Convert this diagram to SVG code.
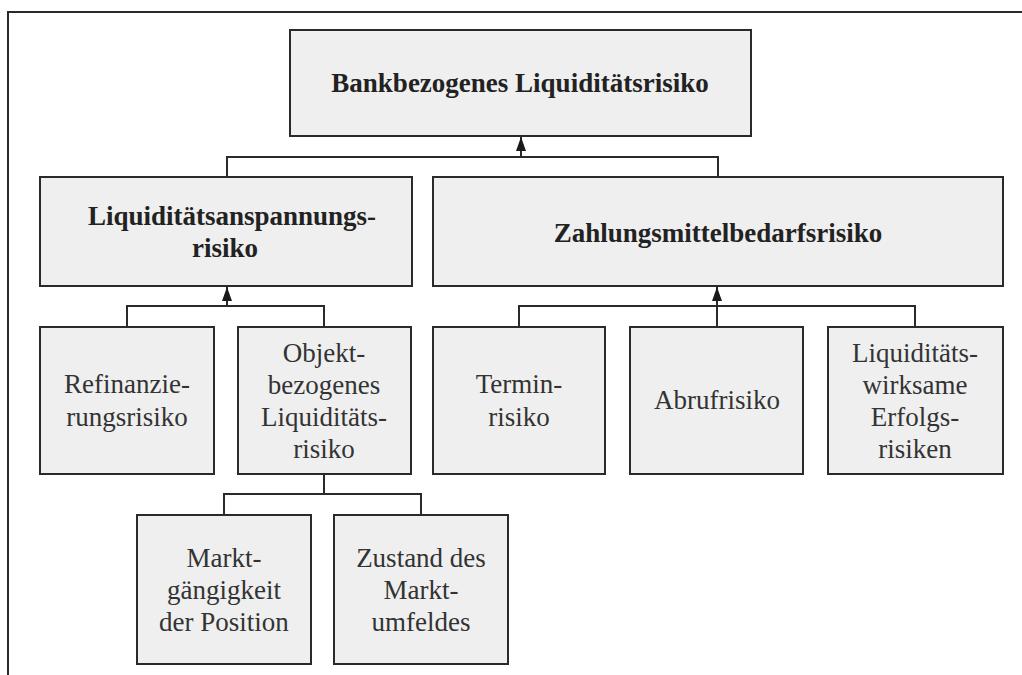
<svg xmlns="http://www.w3.org/2000/svg" width="1022" height="675" viewBox="0 0 1022 675">
<style>
.box{fill:#efefef;stroke:#2a2a2a;stroke-width:2}
.t{font-family:'Liberation Serif','DejaVu Serif',serif;font-size:27px;fill:#333;text-anchor:middle}
.b{font-family:'Liberation Serif','DejaVu Serif',serif;font-size:27px;font-weight:bold;fill:#222;text-anchor:middle}
.c{fill:none;stroke:#2a2a2a;stroke-width:2}
</style>
<defs>
<marker id="arr" viewBox="0 0 14 10" refX="14" refY="5" markerWidth="7" markerHeight="5" markerUnits="strokeWidth" orient="auto">
<path d="M0,0 L14,5 L0,10 Z" fill="#1a1a1a"/>
</marker>
</defs>
<rect width="1022" height="675" fill="#fff"/>
<path class="c" d="M1022,12 H8 V675"/>
<g id="connectors">
<path class="c" d="M227,177 V157 H718 V177"/>
<path class="c" d="M521,157 V137" marker-end="url(#arr)"/>
<path class="c" d="M127,327 V306 H324 V327"/>
<path class="c" d="M227,306 V287" marker-end="url(#arr)"/>
<path class="c" d="M519,327 V306 H915 V327"/>
<path class="c" d="M717,327 V287" marker-end="url(#arr)"/>
<path class="c" d="M224,515 V494 H421 V515"/>
<path class="c" d="M324,474 V494"/>
</g>
<g id="n-bank">
<rect class="box" x="290" y="30" width="461" height="106"/>
<text class="b" x="520" y="92">Bankbezogenes Liquiditätsrisiko</text>
</g>
<g id="n-anspannung">
<rect class="box" x="40" y="177" width="372" height="109"/>
<text class="b" x="232" y="225">Liquiditätsanspannungs-</text>
<text class="b" x="225" y="257">risiko</text>
</g>
<g id="n-zahlung">
<rect class="box" x="433" y="177" width="570" height="109"/>
<text class="b" x="718" y="242">Zahlungsmittelbedarfsrisiko</text>
</g>
<g id="n-refin">
<rect class="box" x="40" y="327" width="174" height="147"/>
<text class="t" x="127" y="393">Refinanzie-</text>
<text class="t" x="127" y="426">rungsrisiko</text>
</g>
<g id="n-objekt">
<rect class="box" x="238" y="327" width="173" height="147"/>
<text class="t" x="324" y="362">Objekt-</text>
<text class="t" x="324" y="394">bezogenes</text>
<text class="t" x="324" y="426">Liquiditäts-</text>
<text class="t" x="324" y="458">risiko</text>
</g>
<g id="n-termin">
<rect class="box" x="433" y="327" width="172" height="147"/>
<text class="t" x="519" y="393">Termin-</text>
<text class="t" x="519" y="426">risiko</text>
</g>
<g id="n-abruf">
<rect class="box" x="630" y="327" width="173" height="147"/>
<text class="t" x="717" y="409">Abrufrisiko</text>
</g>
<g id="n-erfolg">
<rect class="box" x="828" y="327" width="175" height="147"/>
<text class="t" x="915" y="362">Liquiditäts-</text>
<text class="t" x="915" y="394">wirksame</text>
<text class="t" x="915" y="426">Erfolgs-</text>
<text class="t" x="915" y="458">risiken</text>
</g>
<g id="n-markt">
<rect class="box" x="137" y="515" width="174" height="149"/>
<text class="t" x="224" y="567">Markt-</text>
<text class="t" x="224" y="599">gängigkeit</text>
<text class="t" x="224" y="631">der Position</text>
</g>
<g id="n-zustand">
<rect class="box" x="334" y="515" width="174" height="149"/>
<text class="t" x="421" y="567">Zustand des</text>
<text class="t" x="421" y="599">Markt-</text>
<text class="t" x="421" y="631">umfeldes</text>
</g>
</svg>
